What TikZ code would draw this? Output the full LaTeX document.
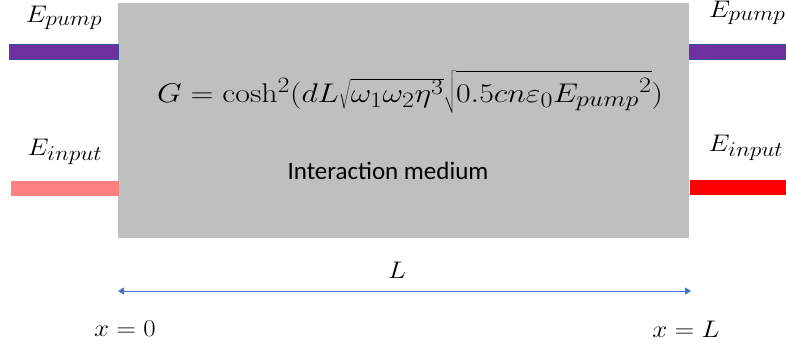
\documentclass[tikz,border=0pt]{standalone}
\usepackage{fix-cm}
\usepackage{fontspec}
\newfontfamily\calibri{Carlito}
\usetikzlibrary{arrows.meta}
\DeclareMathSizes{24}{24}{21}{16}
\DeclareMathSizes{27}{27}{22}{17}
\definecolor{boxgray}{HTML}{BFBFBF}
\definecolor{pumpc}{HTML}{7030A0}
\definecolor{pumpedge}{HTML}{2F5597}
\definecolor{inpl}{HTML}{FF8080}
\definecolor{arrc}{HTML}{4472C4}
\newcommand{\wide}[1]{\scalebox{1.12}[1]{#1}}
\tikzset{
  bar/.style={minimum height=15pt, inner sep=0pt, anchor=west},
  elabel/.style={font=\fontsize{24}{26}\selectfont, inner sep=0pt},
}
\begin{document}
\begin{tikzpicture}[x=1pt,y=-1pt]
\useasboundingbox (0,0) rectangle (786,350);
\node[fill=boxgray, minimum width=571pt, minimum height=235pt, inner sep=0pt, anchor=north west] (medium) at (118,3) {};
\node[bar, fill=pumpc, draw=pumpedge, line width=0.6pt, minimum width=109pt] (pumpL) at (9,51.5) {};
\node[bar, fill=pumpc, draw=pumpedge, line width=0.6pt, minimum width=100pt] (pumpR) at (689,51.5) {};
\node[bar, fill=inpl, minimum width=108pt] (inL) at (11,188.5) {};
\node[bar, fill=red, minimum width=100pt] (inR) at (690,187) {};
\node[elabel] (epL) at (64,18) {\wide{$E_{pump}$}};
\node[elabel, anchor=west] (epR) at (709,13) {\wide{$E_{pump}$}};
\node[elabel] (eiL) at (65,152) {\wide{$E_{input}$}};
\node[elabel] (eiR) at (746,148) {\wide{$E_{input}$}};
\node[font=\fontsize{27}{30}\selectfont, inner sep=0pt] (eq) at (410,92)
  {\scalebox{1.18}[1]{$G=\cosh^2(dL\sqrt{\omega_1\omega_2\eta^3}\sqrt{\rule[-0.3em]{0pt}{1.35em}0.5cn\varepsilon_0{E_{pump}}^2})$}};
\node[font=\calibri\fontsize{25}{29}\selectfont, inner sep=0pt] (im) at (388,171) {Interaction medium};
\coordinate (a0) at (118,291);
\coordinate (a1) at (691,291);
\draw[arrc, line width=1pt, {Triangle[length=6pt,width=7pt]}-{Triangle[length=6pt,width=7pt]}] (a0) -- (a1);
\node[elabel] (Llab) at (397,270) {\wide{$L$}};
\node[elabel] (x0) at (125,329) {\wide{$x=0$}};
\node[elabel] (xL) at (686,329) {\wide{$x=L$}};
\end{tikzpicture}
\end{document}
